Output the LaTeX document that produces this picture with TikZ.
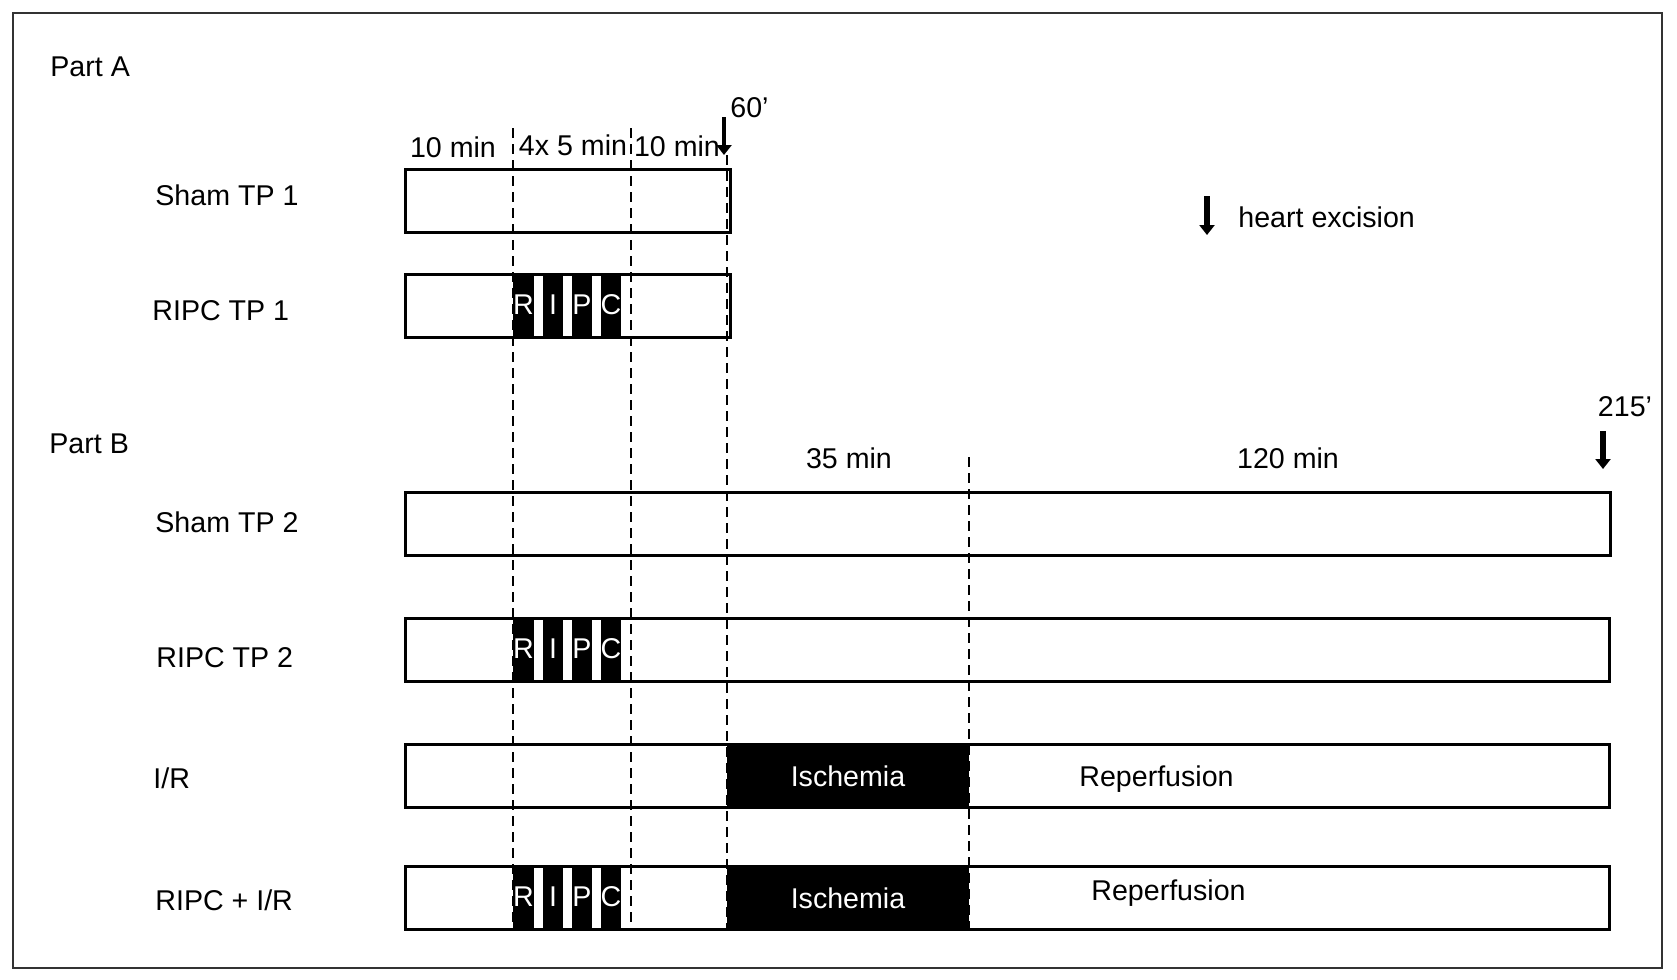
\documentclass[tikz,border=0pt]{standalone}
\usepackage{fontspec}
\setmainfont{Liberation Sans}
\usetikzlibrary{arrows.meta,positioning}

\tikzset{
  bar/.style={draw=black, line width=1.5pt},
  cut/.style={dash pattern=on 5pt off 3pt, line width=0.8pt},
  lbl/.style={anchor=west, inner sep=0pt},
  mid/.style={inner sep=0pt},
  wtxt/.style={text=white, inner sep=0pt},
  excise/.style={line width=2.7pt, -{Triangle[width=7.5pt,length=5pt]}},
}

\begin{document}
\begin{tikzpicture}[x=0.5pt, y=-0.5pt, font=\fontsize{14.3}{17}\selectfont]
  \useasboundingbox (0,0) rectangle (1677,980);

  % Outer frame
  \draw[line width=1pt, black!80] (13,13) rectangle (1662,968);

  % Part headings
  \node[lbl] (partA) at (50,67) {Part A};
  \node[lbl] (partB) at (49,444) {Part B};

  % Row labels
  \node[lbl] (lsham1) at (155,195) {Sham TP 1};
  \node[lbl] (lripc1) at (152,311) {RIPC TP 1};
  \node[lbl] (lsham2) at (155,522) {Sham TP 2};
  \node[lbl] (lripc2) at (156,658) {RIPC TP 2};
  \node[lbl] (lir)    at (153,778) {I/R};
  \node[lbl] (lripcir) at (155,900) {RIPC + I/R};

  % Time bars
  \foreach \top/\right in {169/730, 274/730, 492/1610, 618/1609, 744/1609, 866/1609} {
    \draw[bar] (405,\top) rectangle (\right,\top+63);
  }

  % Dashed time marks
  \foreach \x/\t in {513/128, 631/128, 727/155, 969/457} {
    \draw[cut] (\x,\t) -- (\x,929);
  }

  % RIPC cycles
  \foreach \y in {274,618,866} {
    \foreach \a/\b/\t in {513/534/R, 543/563/I, 572/592/P, 601/621/C} {
      \fill (\a,\y) rectangle (\b,\y+63);
      \node[wtxt] (c\t\y) at ({(\a+\b)/2},\y+31) {\t};
    }
  }

  % Ischemia
  \foreach \y in {744,866} {
    \fill (727,\y) rectangle (969,\y+63);
    \node[wtxt] (isch\y) at (848,\y+32) {Ischemia};
  }
  \node[lbl] (rep1) at (1079,779) {Reperfusion};
  \node[lbl] (rep2) at (1091,893) {Reperfusion};

  % Durations
  \node[mid] (d10a) at (453,147) {10 min};
  \node[mid] (d20)  at (573,145) {4x 5 min};
  \node[mid] (d10b) at (677,146) {10 min};
  \node[mid] (d35)  at (849,458) {35 min};
  \node[mid] (d120) at (1288,458) {120 min};

  % Excision marks
  \node[lbl] (t60) at (730,108) {60’};
  \coordinate (a60s) at (724,117);
  \coordinate (a60e) at (724,155);
  \draw[excise, line width=2.3pt] (a60s) -- (a60e);

  \node[mid] (t215) at (1625,407) {215’};
  \coordinate (a215s) at (1603,431);
  \coordinate (a215e) at (1603,469);
  \draw[excise] (a215s) -- (a215e);

  \coordinate (keys) at (1207,196);
  \coordinate (keye) at (1207,235);
  \draw[excise] (keys) -- (keye);
  \node[lbl] (key) at (1238,217) {heart excision};
\end{tikzpicture}
\end{document}
